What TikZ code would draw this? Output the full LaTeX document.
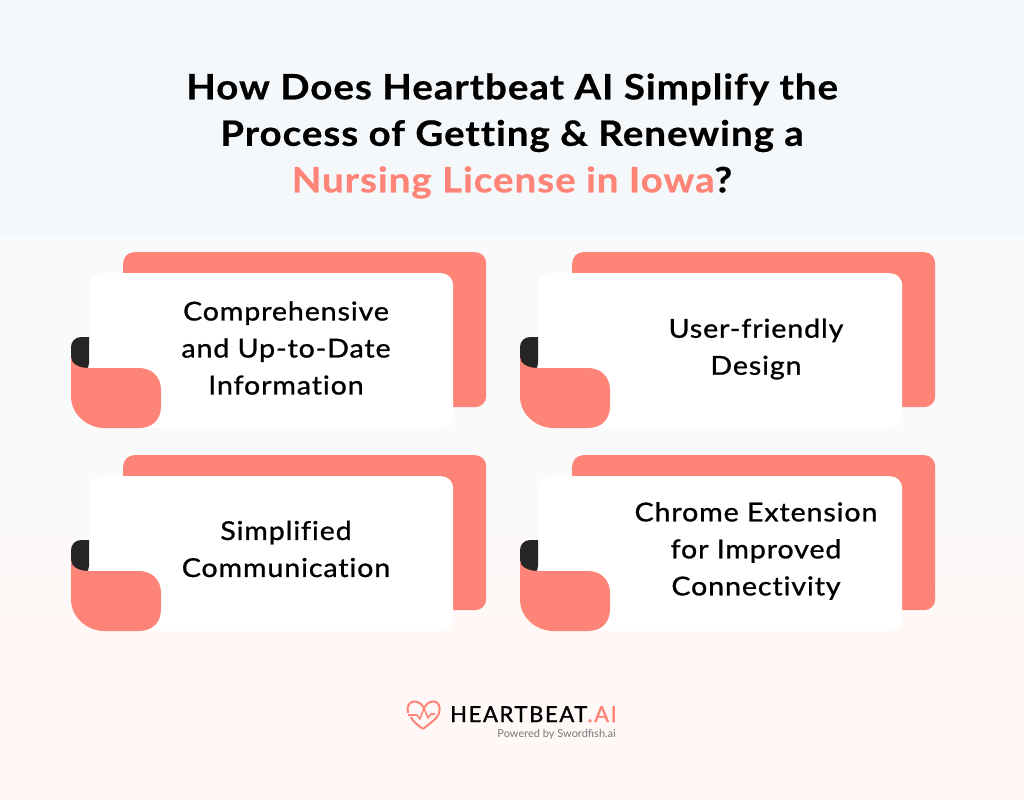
\documentclass[tikz,border=0pt]{standalone}
\usepackage{fontspec}
\setmainfont{Lato}
\newfontfamily\titlefont[FakeBold=0.6,FakeStretch=1.1,LetterSpace=2.8,Ligatures=NoCommon]{Lato Bold}
\newfontfamily\cardfont[FakeBold=1,FakeStretch=1.1,LetterSpace=3.4,Ligatures=NoCommon]{Lato}
\newfontfamily\logofont[FakeBold=1.2,LetterSpace=7.5]{Lato}
\usepackage{xcolor}
\definecolor{CoralRed}{HTML}{FF8478}
\definecolor{TabDark}{HTML}{252525}
\definecolor{BgTop}{HTML}{F5F8FA}
\definecolor{BgUpper}{HTML}{F8FAFB}
\definecolor{BgMid}{HTML}{FAFAFA}
\definecolor{BgBottom}{HTML}{FFF8F6}
\definecolor{SubGray}{HTML}{77787A}
\usetikzlibrary{positioning}
\tikzset{
  % Box styles
  backbox/.style={rectangle, rounded corners=11pt, fill=CoralRed, minimum width=363pt, minimum height=155pt, anchor=north west},
  cardbox/.style={rectangle, rounded corners=12pt, fill=white, minimum width=364pt, minimum height=155pt, anchor=north west},
  cardtext/.style={font=\cardfont\fontsize{26}{37}\selectfont, align=center, text=black, inner sep=0pt},
  % Fold on the left of each card
  tabfill/.style={fill=TabDark, rounded corners=10pt},
  foldfill/.style={fill=CoralRed}
}
% dark tab and coral fold, x and y of the card's top left corner
\newcommand{\cardfold}[2]{%
  \begin{scope}[shift={(#1,#2)}]
    \fill[tabfill] (0,64) -- (-18,64) -- (-18,100) -- (0,100) [sharp corners] -- cycle;
    \fill[foldfill] (-18,84) .. controls (-18,91) and (-10,95) .. (0,95) -- (50,95)
      .. controls (63,95) and (72,104) .. (72,117) -- (72,133)
      .. controls (72,147) and (63,155) .. (50,155) -- (15,155)
      .. controls (0,155) and (-18,143) .. (-18,123) -- cycle;
  \end{scope}}
\begin{document}
\begin{tikzpicture}[x=1pt, y=-1pt]
  % Background
  \fill[BgTop] (0,0) rectangle (1024,235);
  \path[top color=BgUpper, bottom color=BgMid] (0,235) rectangle (1024,480);
  \path[top color=BgMid, bottom color=BgBottom] (0,480) rectangle (1024,630);
  \fill[BgBottom] (0,630) rectangle (1024,800);
  \useasboundingbox (0,0) rectangle (1024,800);

  % Title
  \node[font=\titlefont\fontsize{35}{46.5}\selectfont, align=center, inner sep=0pt] (title) at (512,136)
    {How Does Heartbeat AI Simplify the\\Process of Getting \& Renewing a\\\textcolor{CoralRed}{Nursing License in Iowa}?};

  % Top left card
  \node[backbox] (backa) at (123,252) {};
  \node[cardbox] (carda) at (89,273) {};
  \cardfold{89}{273}
  \node[cardtext] (texta) at (286,348) {Comprehensive\\and Up-to-Date\\Information};

  % Top right card
  \node[backbox] (backb) at (572,252) {};
  \node[cardbox] (cardb) at (538,273) {};
  \cardfold{538}{273}
  \node[cardtext] (textb) at (756,349) {User-friendly\\Design};

  % Bottom left card
  \node[backbox] (backc) at (123,455) {};
  \node[cardbox] (cardc) at (89,476) {};
  \cardfold{89}{476}
  \node[cardtext] (textc) at (286,549) {Simplified\\Communication};

  % Bottom right card
  \node[backbox] (backd) at (572,455) {};
  \node[cardbox] (cardd) at (538,476) {};
  \cardfold{538}{476}
  \node[cardtext] (textd) at (756,551) {Chrome Extension\\for Improved\\Connectivity};

  % Logo
  \draw[CoralRed, line width=2pt, line join=round, rounded corners=1pt]
    (408,713) .. controls (405,700) and (418,698) .. (424,708)
    .. controls (430,698) and (442,700) .. (439,713)
    .. controls (437,719) and (430,723) .. (423,729)
    .. controls (418,725) and (413,722) .. (411,717);
  \draw[CoralRed, line width=1.6pt, line join=round] (408,715) -- (417,715) -- (420,719) -- (424,708) -- (428,718) -- (431,714) -- (435,714);
  \node[font=\logofont\fontsize{22}{22}\selectfont, inner sep=0pt, anchor=base west] (logo) at (450,722) {HEARTBEAT\textcolor{CoralRed}{.AI}};
  \node[font=\fontsize{11}{11}\selectfont, text=SubGray, inner sep=0pt, anchor=base east] (powered) at (616,737) {Powered by Swordfish.ai};
\end{tikzpicture}
\end{document}
